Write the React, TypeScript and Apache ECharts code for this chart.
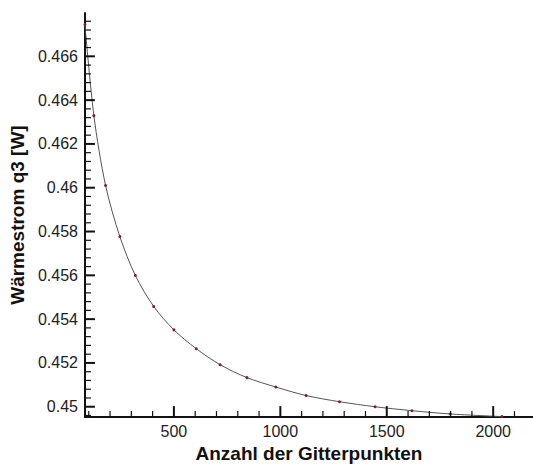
import React, { useEffect, useRef } from "react";
import * as echarts from "echarts";

const gridPoints = [82, 124, 179, 246, 319, 405, 500, 605, 717, 843, 979, 1121, 1278, 1445, 1618, 1798, 2041];
const heatFlow = [0.46745, 0.46329, 0.4601, 0.45777, 0.45599, 0.45458, 0.45351, 0.45265, 0.45192, 0.45133, 0.4509, 0.45051, 0.45023, 0.45, 0.44982, 0.44967, 0.44955];
const xMajorTicks = [500, 1000, 1500, 2000];
const yMajorTicks = [0.45, 0.452, 0.454, 0.456, 0.458, 0.46, 0.462, 0.464, 0.466];

const X_MIN = 82;
const X_MAX = 2187;
const Y_MIN = 0.449527;
const Y_MAX = 0.467978;

function xTickData(): number[][] {
  const out: number[][] = [];
  for (let v = 100; v <= 2100; v += 100) out.push([v, Y_MIN, v % 500 === 0 ? 1 : 0]);
  return out;
}
function yTickData(): number[][] {
  const out: number[][] = [];
  for (let i = 0; i <= 47; i++) {
    const v = Math.round((0.4496 + i * 0.0004) * 1e6) / 1e6;
    if (v > Y_MIN && v < Y_MAX) out.push([X_MIN, v, Math.round(v * 1e6) % 2000 === 0 ? 1 : 0]);
  }
  return out;
}

export default function App() {
  const ref = useRef<HTMLDivElement>(null);
  useEffect(() => {
    if (!ref.current) return;
    const chart = echarts.init(ref.current, undefined, { renderer: "svg" });
    const labelFont = { fontFamily: "Liberation Sans, Arial, sans-serif", fontSize: 16, color: "#222" };
    const nameFont = { fontFamily: "Liberation Sans, Arial, sans-serif", fontSize: 19, fontWeight: "bold" as const, color: "#111" };
    chart.setOption({
      animation: false,
      backgroundColor: "#fff",
      grid: { left: 80, top: 13, right: 0, bottom: 38, containLabel: false },
      xAxis: {
        type: "value",
        min: X_MIN,
        max: X_MAX,
        name: "Anzahl der Gitterpunkten",
        nameLocation: "middle",
        nameGap: 20,
        nameTextStyle: nameFont,
        axisLine: { show: true, onZero: false, lineStyle: { color: "#111", width: 2 } },
        axisTick: { show: false },
        axisLabel: { ...labelFont, margin: 6, customValues: xMajorTicks, formatter: (v: number) => String(v) },
        splitLine: { show: false },
      },
      yAxis: {
        type: "value",
        min: Y_MIN,
        max: Y_MAX,
        name: "Wärmestrom q3 [W]",
        nameLocation: "middle",
        nameGap: 52,
        nameRotate: 90,
        nameTextStyle: nameFont,
        axisLine: { show: true, onZero: false, lineStyle: { color: "#111", width: 2 } },
        axisTick: { show: false },
        axisLabel: {
          ...labelFont,
          margin: 7,
          customValues: yMajorTicks,
          formatter: (v: number) => String(Math.round(v * 1000) / 1000),
        },
        splitLine: { show: false },
      },
      series: [
        {
          type: "custom",
          silent: true,
          z: 5,
          data: xTickData(),
          renderItem: (_p: any, api: any) => {
            const pt = api.coord([api.value(0), api.value(1)]);
            const major = api.value(2) === 1;
            return {
              type: "line",
              shape: { x1: pt[0], y1: pt[1], x2: pt[0], y2: pt[1] - (major ? 11 : 6) },
              style: { stroke: "#111", lineWidth: major ? 2 : 1.2 },
            };
          },
        },
        {
          type: "custom",
          silent: true,
          z: 5,
          data: yTickData(),
          renderItem: (_p: any, api: any) => {
            const pt = api.coord([api.value(0), api.value(1)]);
            const major = api.value(2) === 1;
            return {
              type: "line",
              shape: { x1: pt[0], y1: pt[1], x2: pt[0] + (major ? 10 : 6), y2: pt[1] },
              style: { stroke: "#111", lineWidth: major ? 2 : 1.2 },
            };
          },
        },
        {
          type: "line",
          data: gridPoints.map((x, i) => [x, heatFlow[i]]),
          smooth: 0.3,
          symbol: "circle",
          symbolSize: 3,
          showSymbol: true,
          lineStyle: { color: "#555", width: 1 },
          itemStyle: { color: "#7a1f30" },
          clip: false,
          z: 3,
        },
      ],
    });
    return () => chart.dispose();
  }, []);
  return <div ref={ref} style={{ position: "absolute", left: 0, top: 0, width: 533, height: 468 }} />;
}
